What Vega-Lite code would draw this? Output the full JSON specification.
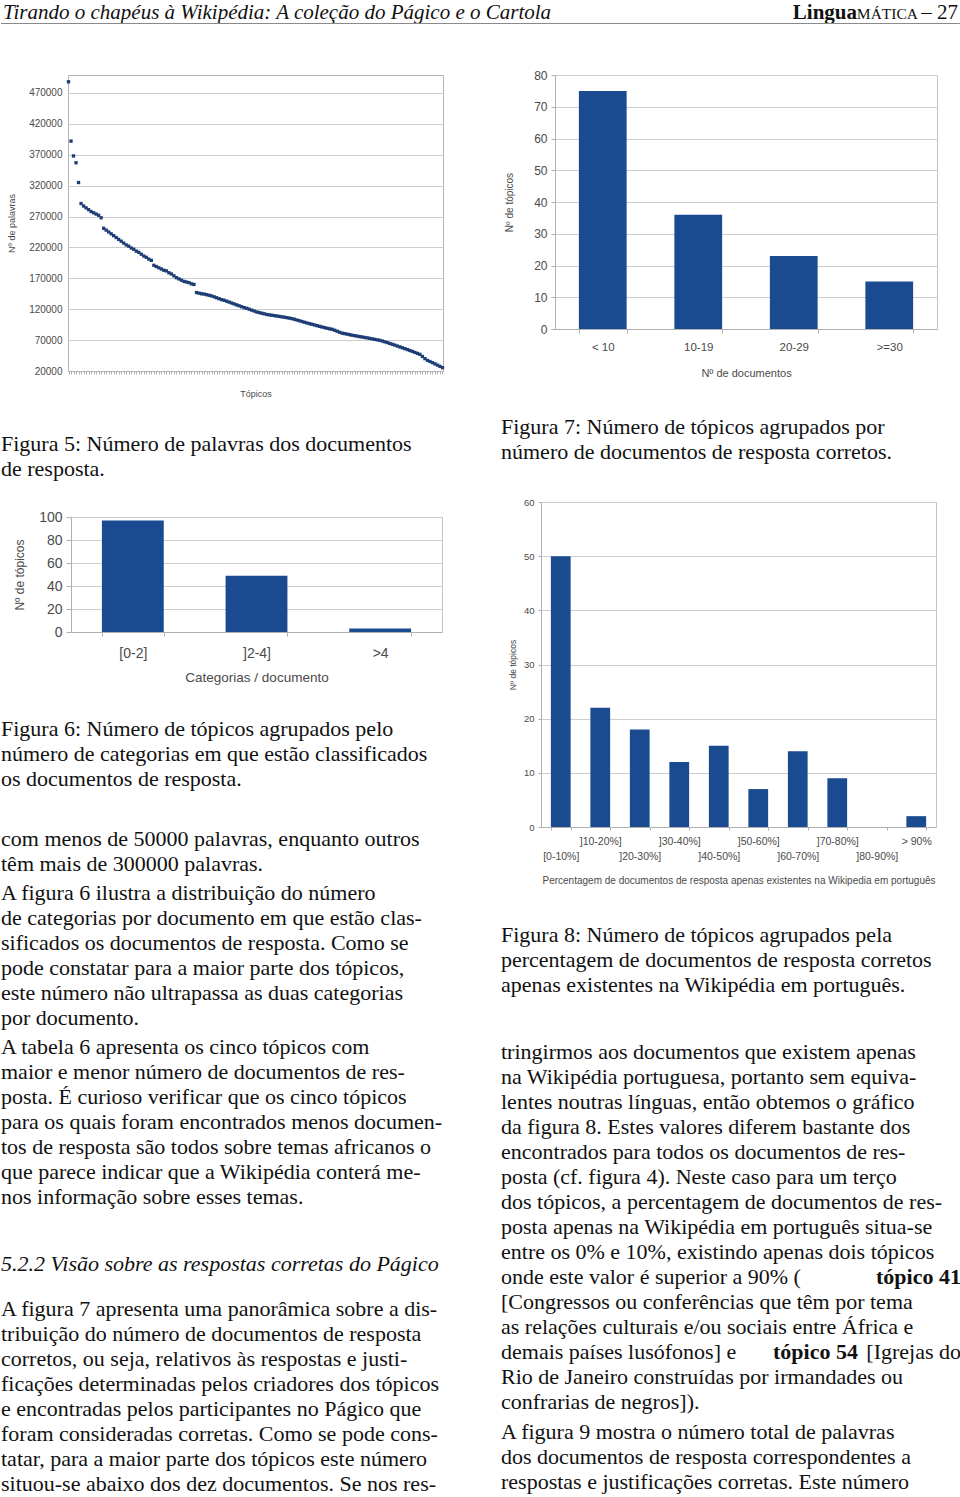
{
  "$schema": "https://vega.github.io/schema/vega-lite/v6.json",
  "padding": 0,
  "background": "white",
  "config": {
    "view": {"stroke": null},
    "axis": {
      "labelFont": "Liberation Sans",
      "titleFont": "Liberation Sans",
      "titleFontWeight": "normal",
      "labelColor": "#4a4a4a",
      "titleColor": "#4a4a4a",
      "gridColor": "#cdcdcd",
      "domainColor": "#b0b0b0",
      "tickColor": "#b0b0b0"
    }
  },
  "datasets": {
    "fig5": [
      {"i":0,"w":488000},{"i":1,"w":392000},{"i":2,"w":368000},{"i":3,"w":357000},{"i":4,"w":325000},
      {"i":5,"w":291000},{"i":6,"w":287000},{"i":7,"w":284000},{"i":8,"w":281000},{"i":9,"w":278000},
      {"i":10,"w":276000},{"i":11,"w":274000},{"i":12,"w":272000},{"i":13,"w":268000},{"i":14,"w":251000},
      {"i":15,"w":248000},{"i":16,"w":245000},{"i":17,"w":242000},{"i":18,"w":239000},{"i":19,"w":236000},
      {"i":20,"w":233000},{"i":21,"w":230000},{"i":22,"w":227000},{"i":23,"w":224000},{"i":24,"w":222000},
      {"i":25,"w":219000},{"i":26,"w":217000},{"i":27,"w":214000},{"i":28,"w":212000},{"i":29,"w":209000},
      {"i":30,"w":206000},{"i":31,"w":204000},{"i":32,"w":201000},{"i":33,"w":199000},{"i":34,"w":191000},
      {"i":35,"w":189000},{"i":36,"w":187000},{"i":37,"w":185000},{"i":38,"w":183000},{"i":39,"w":182000},
      {"i":40,"w":179000},{"i":41,"w":177000},{"i":42,"w":174000},{"i":43,"w":171000},{"i":44,"w":169000},
      {"i":45,"w":167000},{"i":46,"w":165000},{"i":47,"w":164000},{"i":48,"w":163000},{"i":49,"w":161000},
      {"i":50,"w":160000},{"i":51,"w":147000},{"i":52,"w":146000},{"i":53,"w":145000},{"i":54,"w":144500},
      {"i":55,"w":143500},{"i":56,"w":142500},{"i":57,"w":141500},{"i":58,"w":140000},{"i":59,"w":138500},
      {"i":60,"w":137000},{"i":61,"w":135500},{"i":62,"w":134500},{"i":63,"w":133000},{"i":64,"w":131500},
      {"i":65,"w":130000},{"i":66,"w":128500},{"i":67,"w":127000},{"i":68,"w":125500},{"i":69,"w":124000},
      {"i":70,"w":122500},{"i":71,"w":121500},{"i":72,"w":120000},{"i":73,"w":118500},{"i":74,"w":117000},
      {"i":75,"w":115500},{"i":76,"w":114500},{"i":77,"w":113500},{"i":78,"w":112500},{"i":79,"w":111500},
      {"i":80,"w":110800},{"i":81,"w":110300},{"i":82,"w":109600},{"i":83,"w":109000},{"i":84,"w":108300},
      {"i":85,"w":107700},{"i":86,"w":107000},{"i":87,"w":106300},{"i":88,"w":105600},{"i":89,"w":104800},
      {"i":90,"w":103700},{"i":91,"w":102500},{"i":92,"w":101300},{"i":93,"w":100100},{"i":94,"w":98900},
      {"i":95,"w":97700},{"i":96,"w":96600},{"i":97,"w":95600},{"i":98,"w":94500},{"i":99,"w":93400},
      {"i":100,"w":92300},{"i":101,"w":91200},{"i":102,"w":90200},{"i":103,"w":89200},{"i":104,"w":88300},
      {"i":105,"w":87500},{"i":106,"w":86000},{"i":107,"w":84400},{"i":108,"w":82800},{"i":109,"w":81200},
      {"i":110,"w":80500},{"i":111,"w":79700},{"i":112,"w":78800},{"i":113,"w":77900},{"i":114,"w":77200},
      {"i":115,"w":76400},{"i":116,"w":75700},{"i":117,"w":75000},{"i":118,"w":74300},{"i":119,"w":73600},
      {"i":120,"w":72800},{"i":121,"w":72000},{"i":122,"w":71200},{"i":123,"w":70400},{"i":124,"w":69700},
      {"i":125,"w":68500},{"i":126,"w":67200},{"i":127,"w":66000},{"i":128,"w":64600},{"i":129,"w":63300},
      {"i":130,"w":61900},{"i":131,"w":60400},{"i":132,"w":59000},{"i":133,"w":57600},{"i":134,"w":56200},
      {"i":135,"w":54700},{"i":136,"w":53200},{"i":137,"w":51700},{"i":138,"w":50100},{"i":139,"w":48500},
      {"i":140,"w":47000},{"i":141,"w":43500},{"i":142,"w":40000},{"i":143,"w":37200},{"i":144,"w":35400},
      {"i":145,"w":33500},{"i":146,"w":31500},{"i":147,"w":29500},{"i":148,"w":27500},{"i":149,"w":25400}
    ],
    "fig6": [{"c":"[0-2]","v":97},{"c":"]2-4]","v":49},{"c":">4","v":3}],
    "fig7": [{"c":"< 10","v":75},{"c":"10-19","v":36},{"c":"20-29","v":23},{"c":">=30","v":15}],
    "fig8": [
      {"c":"[0-10%]","v":50},{"c":"]10-20%]","v":22},{"c":"]20-30%]","v":18},{"c":"]30-40%]","v":12},
      {"c":"]40-50%]","v":15},{"c":"]50-60%]","v":7},{"c":"]60-70%]","v":14},{"c":"]70-80%]","v":9},
      {"c":"]80-90%]","v":0},{"c":"> 90%","v":2}
    ],
    "cap5": [{"n":1,"t":"Figura 5: Número de palavras dos documentos"},{"n":2,"t":"de resposta."}],
    "cap6": [{"n":1,"t":"Figura 6: Número de tópicos agrupados pelo"},{"n":2,"t":"número de categorias em que estão classificados"},{"n":3,"t":"os documentos de resposta."}],
    "pA": [{"n":1,"t":"com menos de 50000 palavras, enquanto outros"},{"n":2,"t":"têm mais de 300000 palavras."}],
    "pB": [
      {"n":1,"t":"\u2003\u2004A figura 6 ilustra a distribuição do número"},
      {"n":2,"t":"de categorias por documento em que estão clas-"},
      {"n":3,"t":"sificados os documentos de resposta. Como se"},
      {"n":4,"t":"pode constatar para a maior parte dos tópicos,"},
      {"n":5,"t":"este número não ultrapassa as duas categorias"},
      {"n":6,"t":"por documento."}
    ],
    "pC": [
      {"n":1,"t":"\u2003\u2004A tabela 6 apresenta os cinco tópicos com"},
      {"n":2,"t":"maior e menor número de documentos de res-"},
      {"n":3,"t":"posta. É curioso verificar que os cinco tópicos"},
      {"n":4,"t":"para os quais foram encontrados menos documen-"},
      {"n":5,"t":"tos de resposta são todos sobre temas africanos o"},
      {"n":6,"t":"que parece indicar que a Wikipédia conterá me-"},
      {"n":7,"t":"nos informação sobre esses temas."}
    ],
    "head": [{"n":1,"t":"5.2.2 Visão sobre as respostas corretas do Págico"}],
    "pD": [
      {"n":1,"t":"A figura 7 apresenta uma panorâmica sobre a dis-"},
      {"n":2,"t":"tribuição do número de documentos de resposta"},
      {"n":3,"t":"corretos, ou seja, relativos às respostas e justi-"},
      {"n":4,"t":"ficações determinadas pelos criadores dos tópicos"},
      {"n":5,"t":"e encontradas pelos participantes no Págico que"},
      {"n":6,"t":"foram consideradas corretas. Como se pode cons-"},
      {"n":7,"t":"tatar, para a maior parte dos tópicos este número"},
      {"n":8,"t":"situou-se abaixo dos dez documentos. Se nos res-"}
    ],
    "cap7": [{"n":1,"t":"Figura 7: Número de tópicos agrupados por"},{"n":2,"t":"número de documentos de resposta corretos."}],
    "cap8": [{"n":1,"t":"Figura 8: Número de tópicos agrupados pela"},{"n":2,"t":"percentagem de documentos de resposta corretos"},{"n":3,"t":"apenas existentes na Wikipédia em português."}],
    "pE": [
      {"n":1,"t":"tringirmos aos documentos que existem apenas"},
      {"n":2,"t":"na Wikipédia portuguesa, portanto sem equiva-"},
      {"n":3,"t":"lentes noutras línguas, então obtemos o gráfico"},
      {"n":4,"t":"da figura 8. Estes valores diferem bastante dos"},
      {"n":5,"t":"encontrados para todos os documentos de res-"},
      {"n":6,"t":"posta (cf. figura 4). Neste caso para um terço"},
      {"n":7,"t":"dos tópicos, a percentagem de documentos de res-"},
      {"n":8,"t":"posta apenas na Wikipédia em português situa-se"},
      {"n":9,"t":"entre os 0% e 10%, existindo apenas dois tópicos"},
      {"n":10,"t":"onde este valor é superior a 90% ("},
      {"n":11,"t":"[Congressos ou conferências que têm por tema"},
      {"n":12,"t":"as relações culturais e/ou sociais entre África e"},
      {"n":13,"t":"demais países lusófonos] e"},
      {"n":14,"t":"Rio de Janeiro construídas por irmandades ou"},
      {"n":15,"t":"confrarias de negros])."}
    ],
    "pEboldEnd": [{"n":10,"t":"tópico 41"}],
    "pEboldMid": [{"n":13,"t":"tópico 54"}],
    "pEright": [{"n":13,"t":"[Igrejas do"}],
    "pF": [
      {"n":1,"t":"\u2003\u2004A figura 9 mostra o número total de palavras"},
      {"n":2,"t":"dos documentos de resposta correspondentes a"},
      {"n":3,"t":"respostas e justificações corretas. Este número"}
    ]
  },
  "align": "none",
  "spacing": 44,
  "vconcat": [
    {
      "width": 960,
      "height": 23.5,
      "layer": [
        {"data": {"values": [{"t": "Tirando o chapéus à Wikipédia: A coleção do Págico e o Cartola"}]},
         "mark": {"type": "text", "align": "left", "baseline": "alphabetic", "font": "Liberation Serif", "fontStyle": "italic", "fontSize": 21, "dx": 2, "dy": 7, "color": "#111"},
         "encoding": {"x": {"value": 0}, "text": {"field": "t"}}},
        {"data": {"values": [{"t": "Lingua"}]},
         "mark": {"type": "text", "align": "right", "baseline": "alphabetic", "font": "Liberation Serif", "fontWeight": "bold", "fontSize": 21, "dx": -104, "dy": 7, "color": "#111"},
         "encoding": {"x": {"value": "width"}, "text": {"field": "t"}}},
        {"data": {"values": [{"t": "MÁTICA"}]},
         "mark": {"type": "text", "align": "right", "baseline": "alphabetic", "font": "Liberation Serif", "fontSize": 15.5, "dx": -43, "dy": 7, "color": "#111"},
         "encoding": {"x": {"value": "width"}, "text": {"field": "t"}}},
        {"data": {"values": [{"t": "– 27"}]},
         "mark": {"type": "text", "align": "right", "baseline": "alphabetic", "font": "Liberation Serif", "fontSize": 21, "dx": -3, "dy": 7, "color": "#111"},
         "encoding": {"x": {"value": "width"}, "text": {"field": "t"}}},
        {"data": {"values": [{"t": "rule"}]},
         "mark": {"type": "rule", "color": "#8a8a8a", "strokeWidth": 1},
         "encoding": {"y": {"value": "height"}}}
      ]
    },
    {
      "align": "none",
      "spacing": 40,
      "hconcat": [
        {
          "align": "none",
          "spacing": 14,
          "vconcat": [
            {
              "align": "none",
              "spacing": 0,
              "hconcat": [
                {"width": 5.5, "height": 1, "data": {"values": []}, "mark": "point"},
                {
                  "width": 375,
                  "height": 296,
                  "view": {"stroke": "#b5b5b5"},
                  "data": {"name": "fig5"},
                  "mark": {"type": "square", "size": 11, "color": "#1d3d75", "opacity": 1},
                  "encoding": {
                    "x": {"field": "i", "type": "ordinal", "scale": {"type": "point", "padding": 0.2},
                          "axis": {"labels": false, "ticks": true, "tickSize": 3, "grid": false, "title": "Tópicos", "titleFontSize": 9, "titlePadding": 14.5}},
                    "y": {"field": "w", "type": "quantitative", "scale": {"domain": [20000, 499000], "nice": false, "zero": false},
                          "axis": {"values": [20000, 70000, 120000, 170000, 220000, 270000, 320000, 370000, 420000, 470000], "format": "d",
                                   "labelFontSize": 10, "labelPadding": 6, "ticks": false, "domain": false, "grid": true,
                                   "title": "Nº de palavras", "titleFontSize": 9, "titlePadding": 12.1}}
                  }
                }
              ]
            },
            {
              "width": 460, "height": {"step": 25}, "data": {"name": "cap5"},
              "mark": {"type": "text", "align": "left", "baseline": "middle", "font": "Liberation Serif", "fontSize": 22, "color": "#111"},
              "encoding": {"y": {"field": "n", "type": "ordinal", "axis": null, "scale": {"type": "band", "paddingInner": 0, "paddingOuter": 0.636, "align": 0.5755}},
                           "x": {"value": 0}, "text": {"field": "t"}}
            },
            {
              "align": "none",
              "spacing": 0,
              "hconcat": [
                {"width": 12, "height": 1, "data": {"values": []}, "mark": "point"},
                {
                  "width": 371,
                  "height": 115,
                  "view": {"stroke": "#c4c4c4"},
                  "data": {"name": "fig6"},
                  "mark": {"type": "bar", "color": "#1a4a90"},
                  "encoding": {
                    "x": {"field": "c", "type": "nominal", "sort": null, "scale": {"paddingInner": 0.5, "paddingOuter": 0.25},
                          "axis": {"labelAngle": 0, "labelFontSize": 14, "labelPadding": 10, "tickSize": 4, "tickBand": "extent",
                                   "title": "Categorias / documento", "titleFontSize": 13.5, "titlePadding": 10.25}},
                    "y": {"field": "v", "type": "quantitative", "scale": {"domain": [0, 100], "nice": false},
                          "axis": {"values": [0, 20, 40, 60, 80, 100], "labelFontSize": 14, "tickSize": 5, "labelPadding": 4, "grid": true,
                                   "title": "Nº de tópicos", "titleFontSize": 12, "titlePadding": 11.65}}
                  }
                }
              ]
            },
            {
              "width": 460, "height": {"step": 25}, "data": {"name": "cap6"},
              "mark": {"type": "text", "align": "left", "baseline": "middle", "font": "Liberation Serif", "fontSize": 22, "color": "#111"},
              "encoding": {"y": {"field": "n", "type": "ordinal", "axis": null, "scale": {"type": "band", "paddingInner": 0, "paddingOuter": 0.74, "align": 0.4595}},
                           "x": {"value": 0}, "text": {"field": "t"}}
            },
            {
              "align": "none",
              "spacing": 0,
              "vconcat": [
                {
                  "width": 460, "height": {"step": 25}, "data": {"name": "pA"},
                  "mark": {"type": "text", "align": "left", "baseline": "middle", "font": "Liberation Serif", "fontSize": 22, "color": "#111"},
                  "encoding": {"y": {"field": "n", "type": "ordinal", "axis": null, "scale": {"type": "band", "paddingInner": 0, "paddingOuter": 0, "align": 1}},
                               "x": {"value": 0}, "text": {"field": "t"}}
                },
                {
                  "width": 460, "height": {"step": 25}, "data": {"name": "pB"},
                  "mark": {"type": "text", "align": "left", "baseline": "middle", "font": "Liberation Serif", "fontSize": 22, "color": "#111"},
                  "encoding": {"y": {"field": "n", "type": "ordinal", "axis": null, "scale": {"type": "band", "paddingInner": 0, "paddingOuter": 0.08, "align": 1}},
                               "x": {"value": 0}, "text": {"field": "t"}}
                },
                {
                  "width": 460, "height": {"step": 25}, "data": {"name": "pC"},
                  "mark": {"type": "text", "align": "left", "baseline": "middle", "font": "Liberation Serif", "fontSize": 22, "color": "#111"},
                  "encoding": {"y": {"field": "n", "type": "ordinal", "axis": null, "scale": {"type": "band", "paddingInner": 0, "paddingOuter": 0.08, "align": 1}},
                               "x": {"value": 0}, "text": {"field": "t"}}
                },
                {
                  "width": 460, "height": {"step": 25}, "data": {"name": "head"},
                  "mark": {"type": "text", "align": "left", "baseline": "middle", "font": "Liberation Serif", "fontStyle": "italic", "fontSize": 22, "color": "#111"},
                  "encoding": {"y": {"field": "n", "type": "ordinal", "axis": null, "scale": {"type": "band", "paddingInner": 0, "paddingOuter": 0.84, "align": 1}},
                               "x": {"value": 0}, "text": {"field": "t"}}
                },
                {
                  "width": 460, "height": {"step": 25}, "data": {"name": "pD"},
                  "mark": {"type": "text", "align": "left", "baseline": "middle", "font": "Liberation Serif", "fontSize": 22, "color": "#111"},
                  "encoding": {"y": {"field": "n", "type": "ordinal", "axis": null, "scale": {"type": "band", "paddingInner": 0, "paddingOuter": 0.4, "align": 1}},
                               "x": {"value": 0}, "text": {"field": "t"}}
                }
              ]
            }
          ]
        },
        {
          "align": "none",
          "spacing": 14,
          "vconcat": [
            {
              "align": "none",
              "spacing": 0,
              "hconcat": [
                {"width": 3, "height": 1, "data": {"values": []}, "mark": "point"},
                {
                  "width": 382,
                  "height": 254,
                  "view": {"stroke": "#c4c4c4"},
                  "data": {"name": "fig7"},
                  "mark": {"type": "bar", "color": "#1a4a90"},
                  "encoding": {
                    "x": {"field": "c", "type": "nominal", "sort": null, "scale": {"paddingInner": 0.5, "paddingOuter": 0.25},
                          "axis": {"labelAngle": 0, "labelFontSize": 11.5, "labelPadding": 8.25, "tickSize": 4, "tickBand": "extent",
                                   "title": "Nº de documentos", "titleFontSize": 11, "titlePadding": 14.75}},
                    "y": {"field": "v", "type": "quantitative", "scale": {"domain": [0, 80], "nice": false},
                          "axis": {"values": [0, 10, 20, 30, 40, 50, 60, 70, 80], "labelFontSize": 12, "tickSize": 4, "labelPadding": 4, "grid": true,
                                   "title": "Nº de tópicos", "titleFontSize": 10, "titlePadding": 18.7}}
                  }
                }
              ]
            },
            {
              "width": 460, "height": {"step": 25}, "data": {"name": "cap7"},
              "mark": {"type": "text", "align": "left", "baseline": "middle", "font": "Liberation Serif", "fontSize": 22, "color": "#111"},
              "encoding": {"y": {"field": "n", "type": "ordinal", "axis": null, "scale": {"type": "band", "paddingInner": 0, "paddingOuter": 0.774, "align": 0.561}},
                           "x": {"value": 0}, "text": {"field": "t"}}
            },
            {
              "align": "none",
              "spacing": 0,
              "hconcat": [
                {"width": 5.75, "height": 1, "data": {"values": []}, "mark": "point"},
                {
                  "width": 395,
                  "height": 325,
                  "view": {"stroke": "#c4c4c4"},
                  "data": {"name": "fig8"},
                  "mark": {"type": "bar", "color": "#1a4a90"},
                  "encoding": {
                    "x": {"field": "c", "type": "nominal", "sort": null, "scale": {"paddingInner": 0.5, "paddingOuter": 0.25},
                          "axis": {"labelAngle": 0, "labelFontSize": 10.5, "tickSize": 3, "tickBand": "extent",
                                   "labelPadding": {"condition": {"test": "indexof(['[0-10%]', ']20-30%]', ']40-50%]', ']60-70%]', ']80-90%]'], datum.value) >= 0", "value": 21.75}, "value": 6.75},
                                   "title": "Percentagem de documentos de resposta apenas existentes na Wikipedia em português", "titleFontSize": 10, "titlePadding": 12.75}},
                    "y": {"field": "v", "type": "quantitative", "scale": {"domain": [0, 60], "nice": false},
                          "axis": {"values": [0, 10, 20, 30, 40, 50, 60], "labelFontSize": 9.5, "tickSize": 3, "labelPadding": 4, "grid": true,
                                   "title": "Nº de tópicos", "titleFontSize": 8.5, "titlePadding": 6.2}}
                  }
                }
              ]
            },
            {
              "width": 460, "height": {"step": 25}, "data": {"name": "cap8"},
              "mark": {"type": "text", "align": "left", "baseline": "middle", "font": "Liberation Serif", "fontSize": 22, "color": "#111"},
              "encoding": {"y": {"field": "n", "type": "ordinal", "axis": null, "scale": {"type": "band", "paddingInner": 0, "paddingOuter": 1, "align": 0.444}},
                           "x": {"value": 0}, "text": {"field": "t"}}
            },
            {
              "align": "none",
              "spacing": 0,
              "vconcat": [
                {
                  "width": 460, "height": {"step": 25},
                  "encoding": {"y": {"field": "n", "type": "ordinal", "axis": null, "scale": {"type": "band", "paddingInner": 0, "paddingOuter": 0, "align": 1}}},
                  "layer": [
                    {"data": {"name": "pE"},
                     "mark": {"type": "text", "align": "left", "baseline": "middle", "font": "Liberation Serif", "fontSize": 22, "color": "#111"},
                     "encoding": {"x": {"value": 0}, "text": {"field": "t"}}},
                    {"data": {"name": "pEboldEnd"},
                     "mark": {"type": "text", "align": "right", "baseline": "middle", "font": "Liberation Serif", "fontWeight": "bold", "fontSize": 22, "color": "#111"},
                     "encoding": {"x": {"value": "width"}, "text": {"field": "t"}}},
                    {"data": {"name": "pEboldMid"},
                     "mark": {"type": "text", "align": "right", "baseline": "middle", "font": "Liberation Serif", "fontWeight": "bold", "fontSize": 22, "color": "#111", "dx": -103},
                     "encoding": {"x": {"value": "width"}, "text": {"field": "t"}}},
                    {"data": {"name": "pEright"},
                     "mark": {"type": "text", "align": "right", "baseline": "middle", "font": "Liberation Serif", "fontSize": 22, "color": "#111"},
                     "encoding": {"x": {"value": "width"}, "text": {"field": "t"}}}
                  ]
                },
                {
                  "width": 460, "height": {"step": 25}, "data": {"name": "pF"},
                  "mark": {"type": "text", "align": "left", "baseline": "middle", "font": "Liberation Serif", "fontSize": 22, "color": "#111"},
                  "encoding": {"y": {"field": "n", "type": "ordinal", "axis": null, "scale": {"type": "band", "paddingInner": 0, "paddingOuter": 0.1, "align": 1}},
                               "x": {"value": 0}, "text": {"field": "t"}}
                }
              ]
            }
          ]
        }
      ]
    }
  ]
}
